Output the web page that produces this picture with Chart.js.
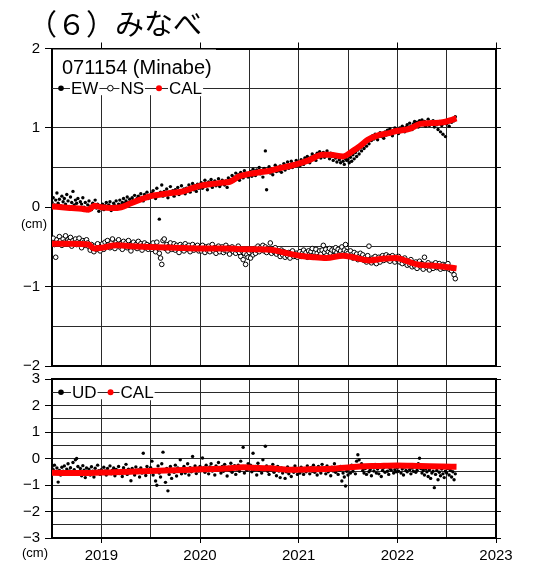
<!DOCTYPE html>
<html>
<head>
<meta charset="utf-8">
<script src="https://cdn.jsdelivr.net/npm/chart.js@4.4.1/dist/chart.umd.min.js"></script>
<style>
  body { margin: 0; background: #fff; }
  #wrap { position: relative; width: 537px; height: 564px; overflow: hidden; background: #fff; }
  #wrap canvas { position: absolute; left: 0; top: 0; }
  .titulo { position: absolute; left: 28px; top: 5px; font: 29px "Noto Sans CJK JP", sans-serif; color: #000; white-space: nowrap; line-height: 1.2; }
  .unidad { position: absolute; font: 13px "Liberation Sans", Arial, sans-serif; color: #000; line-height: 15px; }
</style>
</head>
<body>
<div id="wrap">
  <canvas id="chartHoriz" width="537" height="564"></canvas>
  <canvas id="chartVert" width="537" height="564"></canvas>
  <div class="titulo">（６）みなべ</div>
  <div class="unidad" style="left:21px; top:216px;">(cm)</div>
  <div class="unidad" style="left:22px; top:545px;">(cm)</div>
</div>
<script>
// muestras cada 1/80 de año desde 2018.5
const inicio = 2018.5;
const paso = 1 / 80;

const ewValues = [
  0.06,0.12,0.03,0.09,0.18,0.05,0.10,0.02,0.14,0.07, 0.11,0.04,0.16,0.08,0.01,0.13,0.06,0.20,0.03,0.09,
  0.05,0.11,-0.02,0.07,0.04,0.12,0.00,0.06,-0.04,0.03, 0.08,0.01,-0.03,0.05,0.02,0.09,-0.01,0.04,-0.05,0.02,
  0.00,0.04,-0.03,0.02,0.06,-0.01,0.03,0.07,-0.04,0.01, 0.05,0.02,0.08,-0.02,0.04,0.09,0.03,0.06,0.11,0.05,
  0.08,0.13,0.06,0.10,0.04,0.12,0.09,0.15,0.07,0.11, 0.14,0.09,0.17,0.12,0.08,0.16,0.13,0.19,0.11,0.15,
  0.13,0.18,0.21,0.15,0.11,0.24,0.17,-0.15,0.19,0.28, 0.14,0.20,0.16,0.23,0.12,0.19,0.26,0.17,0.21,0.14,
  0.22,0.18,0.25,0.16,0.20,0.27,0.19,0.23,0.17,0.24, 0.21,0.28,0.19,0.25,0.30,0.22,0.27,0.20,0.29,0.24,
  0.26,0.31,0.24,0.29,0.34,0.27,0.22,0.32,0.28,0.35, 0.25,0.30,0.33,0.27,0.31,0.36,0.26,0.29,0.34,0.30,
  0.28,0.33,0.25,0.37,0.31,0.35,0.40,0.33,0.38,0.43, 0.36,0.41,0.34,0.44,0.39,0.37,0.46,0.40,0.43,0.38,
  0.41,0.45,0.39,0.48,0.43,0.40,0.47,0.44,0.50,0.42, 0.46,0.38,0.49,0.71,0.22,0.45,0.51,0.43,0.48,0.41,
  0.47,0.53,0.45,0.50,0.46,0.52,0.44,0.49,0.55,0.47, 0.51,0.57,0.49,0.53,0.58,0.50,0.55,0.52,0.59,0.54,
  0.56,0.52,0.60,0.57,0.54,0.62,0.58,0.64,0.60,0.56, 0.63,0.67,0.61,0.65,0.59,0.68,0.64,0.70,0.62,0.66,
  0.69,0.63,0.67,0.71,0.65,0.61,0.68,0.64,0.59,0.66, 0.62,0.57,0.65,0.60,0.56,0.63,0.58,0.54,0.61,0.59,
  0.60,0.56,0.63,0.58,0.66,0.61,0.69,0.64,0.72,0.67, 0.75,0.71,0.79,0.74,0.82,0.77,0.85,0.80,0.88,0.84,
  0.90,0.86,0.92,0.88,0.85,0.91,0.94,0.89,0.93,0.87, 0.95,0.91,0.97,0.93,0.99,0.94,0.90,0.96,1.00,0.95,
  0.97,0.93,1.00,0.96,1.02,0.98,0.95,1.01,1.04,0.99, 1.06,1.02,0.98,1.05,1.08,1.03,1.07,1.01,1.09,1.05,
  1.10,1.04,1.08,1.02,1.06,1.11,1.03,1.07,1.05,1.09, 1.01,1.06,1.04,0.98,1.08,0.95,1.03,0.92,1.06,0.89,
  1.05,1.09,1.02,1.10,1.07,1.12,1.09,1.14
];

const nsValues = [
  -0.43,-0.39,-0.47,-0.63,-0.41,-0.45,-0.37,-0.42,-0.48,-0.40, -0.44,-0.36,-0.46,-0.41,-0.43,-0.38,-0.49,-0.42,-0.45,-0.40,
  -0.47,-0.43,-0.39,-0.46,-0.51,-0.42,-0.44,-0.48,-0.41,-0.45, -0.50,-0.54,-0.47,-0.52,-0.56,-0.49,-0.53,-0.46,-0.51,-0.55,
  -0.50,-0.46,-0.53,-0.44,-0.49,-0.42,-0.47,-0.51,-0.45,-0.40, -0.48,-0.52,-0.44,-0.47,-0.41,-0.50,-0.46,-0.53,-0.43,-0.48,
  -0.45,-0.51,-0.42,-0.49,-0.55,-0.46,-0.44,-0.50,-0.47,-0.52, -0.43,-0.49,-0.46,-0.54,-0.48,-0.45,-0.51,-0.47,-0.53,-0.49,
  -0.48,-0.53,-0.45,-0.50,-0.56,-0.44,-0.51,-0.58,-0.64,-0.72, -0.42,-0.40,-0.52,-0.47,-0.55,-0.49,-0.45,-0.53,-0.50,-0.46,
  -0.54,-0.48,-0.51,-0.57,-0.47,-0.52,-0.49,-0.55,-0.46,-0.50, -0.53,-0.48,-0.56,-0.51,-0.47,-0.54,-0.50,-0.52,-0.48,-0.55,
  -0.51,-0.55,-0.48,-0.53,-0.57,-0.50,-0.54,-0.49,-0.56,-0.52, -0.47,-0.55,-0.51,-0.58,-0.53,-0.49,-0.56,-0.52,-0.50,-0.57,
  -0.54,-0.48,-0.55,-0.51,-0.59,-0.53,-0.50,-0.56,-0.52,-0.58, -0.54,-0.49,-0.57,-0.62,-0.55,-0.66,-0.58,-0.72,-0.60,-0.63,
  -0.57,-0.64,-0.55,-0.60,-0.52,-0.58,-0.54,-0.49,-0.56,-0.51, -0.53,-0.48,-0.55,-0.50,-0.57,-0.52,-0.54,-0.45,-0.58,-0.53,
  -0.56,-0.51,-0.59,-0.55,-0.57,-0.62,-0.54,-0.60,-0.56,-0.63, -0.58,-0.61,-0.57,-0.64,-0.59,-0.55,-0.62,-0.60,-0.58,-0.63,
  -0.60,-0.56,-0.62,-0.58,-0.54,-0.61,-0.57,-0.63,-0.55,-0.59, -0.56,-0.52,-0.60,-0.57,-0.53,-0.58,-0.62,-0.55,-0.59,-0.54,
  -0.48,-0.57,-0.53,-0.60,-0.56,-0.52,-0.58,-0.54,-0.61,-0.55, -0.51,-0.57,-0.53,-0.59,-0.55,-0.50,-0.58,-0.54,-0.47,-0.56,
  -0.58,-0.62,-0.55,-0.60,-0.64,-0.57,-0.61,-0.59,-0.66,-0.62, -0.58,-0.65,-0.60,-0.67,-0.63,-0.69,-0.61,-0.49,-0.66,-0.70,
  -0.64,-0.68,-0.62,-0.71,-0.66,-0.63,-0.69,-0.65,-0.61,-0.67, -0.63,-0.60,-0.66,-0.62,-0.68,-0.64,-0.61,-0.65,-0.69,-0.63,
  -0.66,-0.62,-0.69,-0.65,-0.71,-0.67,-0.64,-0.70,-0.73,-0.68, -0.72,-0.66,-0.75,-0.70,-0.74,-0.69,-0.77,-0.72,-0.68,-0.75,
  -0.71,-0.78,-0.63,-0.73,-0.76,-0.70,-0.79,-0.74,-0.72,-0.77, -0.73,-0.70,-0.76,-0.74,-0.71,-0.78,-0.75,-0.72,-0.77,-0.73,
  -0.75,-0.71,-0.78,-0.76,-0.80,-0.77,-0.85,-0.90
];

const udValues = [
  -0.30,-0.42,-0.25,-0.51,-0.36,-0.89,-0.45,-0.62,-0.33,-0.48, -0.28,-0.55,-0.40,-0.20,-0.47,-0.35,-0.58,-0.15,-0.42,-0.05,
  0.00,-0.30,-0.52,-0.38,-0.65,-0.27,-0.44,-0.72,-0.36,-0.55, -0.40,-0.62,-0.31,-0.48,-0.70,-0.37,-0.53,-0.25,-0.46,-0.60,
  -0.42,-0.55,-0.33,-0.47,-0.62,-0.38,-0.50,-0.28,-0.58,-0.44, -0.36,-0.65,-0.41,-0.52,-0.30,-0.57,-0.45,-0.68,-0.35,-0.49,
  -0.22,-0.60,-0.40,-0.54,-0.84,-0.38,-0.47,-0.62,-0.32,-0.51, -0.43,-0.70,-0.36,-0.55,0.20,-0.48,-0.64,-0.30,-0.52,-0.40,
  -0.35,-0.10,-0.62,-0.45,-0.85,-1.01,-0.28,-0.55,-0.70,-0.20, 0.24,-0.48,-0.90,-0.38,-1.22,-0.60,-0.30,-0.75,-0.42,-0.52,
  -0.25,-0.66,-0.36,-0.48,-0.05,-0.58,-0.40,-0.30,-0.55,-0.44, -0.20,-0.62,-0.35,-0.50,0.08,-0.42,-0.28,-0.57,-0.38,-0.47,
  -0.30,-0.45,0.02,-0.36,-0.52,-0.25,-0.40,-0.58,-0.32,-0.20, -0.47,-0.35,-0.62,-0.28,-0.43,-0.15,-0.38,-0.55,-0.30,-0.48,
  -0.22,-0.41,-0.66,-0.33,-0.45,-0.18,-0.52,-0.36,-0.27,-0.60, -0.40,-0.25,-0.48,-0.10,-0.35,0.42,-0.55,-0.30,-0.44,-0.20,
  -0.38,-0.25,-0.50,0.20,-0.42,-0.30,-0.62,-0.18,-0.45,-0.35, -0.55,-0.05,-0.40,0.46,-0.28,-0.48,-0.60,-0.33,-0.44,-0.22,
  -0.52,-0.38,-0.65,-0.30,-0.47,-0.72,-0.36,-0.55,-0.42,-0.75, -0.50,-0.32,-0.58,-0.45,-0.68,-0.38,-0.52,-0.28,-0.46,-0.60,
  -0.42,-0.55,-0.33,-0.47,-0.60,-0.38,-0.50,-0.28,-0.45,-0.58, -0.35,-0.48,-0.25,-0.52,-0.40,-0.62,-0.30,-0.46,-0.55,-0.22,
  -0.43,-0.36,-0.58,-0.28,-0.50,-0.40,-0.65,-0.33,-0.47,-0.20, -0.52,-0.38,-0.60,-0.44,-0.30,-0.85,-0.55,-0.70,-1.04,-0.48,
  -0.62,-0.40,-0.55,-0.25,-0.48,-0.35,-0.58,-0.10,0.14,-0.05, -0.30,-0.20,-0.45,-0.55,-0.38,-0.60,-0.28,-0.50,-0.42,-0.65,
  -0.33,-0.47,-0.22,-0.55,-0.40,-0.58,-0.30,-0.68,-0.45,-0.35, -0.52,-0.25,-0.48,-0.60,-0.38,-0.44,-0.30,-0.55,-0.42,-0.50,
  -0.35,-0.48,-0.28,-0.55,-0.40,-0.62,-0.32,-0.45,-0.50,-0.25, -0.42,-0.58,-0.36,-0.48,-0.30,-0.52,-0.44,-0.20,0.01,-0.38,
  -0.55,-0.45,-0.62,-0.40,-0.50,-0.68,-0.42,-0.75,-0.55,-0.48, -1.10,-0.60,-0.45,-0.80,-0.52,-0.65,-0.40,-0.58,-0.72,-0.48,
  -0.55,-0.38,-0.62,-0.45,-0.70,-0.50,-0.80,-0.58
];

// curvas CAL
const calEwYears  = [2018.50,2018.60,2018.70,2018.80,2018.87,2018.93,2019.00,2019.10,2019.20,2019.30,2019.40,2019.50,2019.60,2019.70,2019.83,2019.92,2020.00,2020.10,2020.23,2020.30,2020.40,2020.50,2020.60,2020.71,2020.80,2020.91,2021.00,2021.10,2021.24,2021.32,2021.45,2021.55,2021.62,2021.70,2021.79,2021.90,2021.99,2022.13,2022.23,2022.35,2022.46,2022.60];
const calEwValues = [0.01,0.00,-0.01,-0.02,-0.03,0.02,0.00,-0.01,0.00,0.05,0.10,0.14,0.16,0.18,0.20,0.24,0.27,0.29,0.31,0.32,0.39,0.42,0.44,0.46,0.49,0.52,0.55,0.59,0.66,0.66,0.64,0.71,0.77,0.85,0.90,0.93,0.96,0.99,1.05,1.06,1.07,1.12];

const calNsYears  = [2018.50,2018.70,2018.87,2018.93,2019.00,2019.16,2019.30,2019.49,2019.75,2020.00,2020.25,2020.50,2020.71,2020.85,2021.01,2021.15,2021.28,2021.45,2021.55,2021.72,2021.85,2021.99,2022.10,2022.20,2022.40,2022.60];
const calNsValues = [-0.46,-0.46,-0.47,-0.52,-0.51,-0.48,-0.49,-0.50,-0.51,-0.52,-0.52,-0.53,-0.535,-0.57,-0.61,-0.63,-0.64,-0.61,-0.63,-0.67,-0.65,-0.64,-0.68,-0.72,-0.74,-0.77];

const calUdYears  = [2018.50,2018.80,2019.00,2019.20,2019.49,2019.75,2020.00,2020.25,2020.44,2020.60,2020.71,2020.91,2021.10,2021.32,2021.50,2021.62,2021.80,2021.99,2022.23,2022.45,2022.60];
const calUdValues = [-0.54,-0.55,-0.53,-0.51,-0.47,-0.44,-0.41,-0.38,-0.33,-0.36,-0.37,-0.42,-0.41,-0.39,-0.34,-0.30,-0.28,-0.26,-0.28,-0.30,-0.31];

const yearLabels = [2019, 2020, 2021, 2022, 2023];

const GRID = "#2a2a2a";
const FONT = '"Liberation Sans", Arial, sans-serif';
Chart.defaults.font.family = FONT;
Chart.defaults.color = "#000";

const muestras = vals => vals.map((v, i) => ({ x: inicio + i * paso, y: v }));
const pares = (xs, ys) => xs.map((x, i) => ({ x, y: ys[i] }));
const entero = v => Number.isInteger(v);
const signo = v => (v < 0 ? "\u2212" + Math.abs(v) : String(v));
const oculto = "rgba(0,0,0,0)";

// cuadro de leyenda sobre la linea de la grilla
const leyendaPanel = {
  id: "leyendaPanel",
  afterDatasetsDraw(chart, args, opts) {
    if (!opts.items) return;
    const ctx = chart.ctx;
    const a = chart.chartArea;
    const y = chart.scales.y.getPixelForValue(opts.nivel);
    ctx.save();
    ctx.fillStyle = "#fff";
    ctx.fillRect(a.left + 1, a.top + 1, opts.ancho, y + 6 - a.top);
    ctx.strokeStyle = GRID;
    ctx.lineWidth = 1;
    ctx.beginPath();
    ctx.moveTo(a.left, Math.round(y) + 0.5);
    ctx.lineTo(a.left + opts.ancho + 1, Math.round(y) + 0.5);
    ctx.stroke();

    if (opts.titulo) {
      ctx.font = "20px " + FONT;
      ctx.fillStyle = "#000";
      ctx.textBaseline = "alphabetic";
      ctx.fillText(opts.titulo, a.left + 10, a.top + 25);
    }

    ctx.font = "17px " + FONT;
    ctx.textBaseline = "middle";
    let x = a.left + 9;
    opts.items.forEach(it => {
      ctx.beginPath();
      ctx.arc(x, y, it.radio, 0, Math.PI * 2);
      ctx.fillStyle = it.relleno;
      ctx.fill();
      if (it.borde) {
        ctx.lineWidth = 1;
        ctx.strokeStyle = it.borde;
        ctx.stroke();
      }
      const tx = x + it.sep;
      const w = ctx.measureText(it.texto).width;
      ctx.fillStyle = "#fff";
      ctx.fillRect(tx - 1, y - 8, w + 2, 16);
      ctx.fillStyle = "#000";
      ctx.fillText(it.texto, tx, y + 1);
      x = tx + w + it.hueco;
    });
    ctx.restore();
  }
};

function ejes(o) {
  return {
    x: {
      type: "linear", min: 2018.5, max: 2023,
      ticks: {
        display: o.xLabels, stepSize: 0.5, autoSkip: false, maxRotation: 0, padding: 4,
        font: { size: 15 },
        callback: v => (yearLabels.includes(v) ? String(v) : "")
      },
      grid: {
        color: GRID, lineWidth: 1, drawTicks: o.xLabels, tickLength: 5,
        tickColor: c => (c.tick && entero(c.tick.value) ? "#000" : oculto)
      },
      border: { color: "#000", width: 2 },
      afterFit: s => { s.height = o.xHeight; }
    },
    xTop: {
      type: "linear", position: "top", min: 2018.5, max: 2023,
      ticks: { display: false, stepSize: 0.5, autoSkip: false },
      grid: {
        drawOnChartArea: false, drawTicks: o.topTicks, tickLength: 6,
        tickColor: c => (c.tick && entero(c.tick.value) ? "#000" : oculto)
      },
      border: { color: "#000", width: 2 },
      afterFit: s => { s.height = o.topTicks ? 6 : 0; }
    },
    y: {
      type: "linear", min: o.min, max: o.max,
      ticks: {
        stepSize: 0.5, autoSkip: false, padding: 5, font: { size: 15 },
        callback: v => (entero(v) ? signo(v) : "")
      },
      grid: {
        color: GRID, lineWidth: 1, tickLength: 7,
        tickColor: c => (c.tick && entero(c.tick.value) ? "#000" : oculto)
      },
      border: { color: "#000", width: 2 },
      afterFit: s => { s.width = 52; }
    },
    yRight: {
      type: "linear", position: "right", min: o.min, max: o.max,
      ticks: { display: false, stepSize: 0.5, autoSkip: false },
      grid: {
        drawOnChartArea: false, tickLength: 5,
        tickColor: c => (c.tick && (o.rightHalf || entero(c.tick.value)) ? "#000" : oculto)
      },
      border: { color: "#000", width: 2 },
      afterFit: s => { s.width = 5; }
    }
  };
}

const base = {
  responsive: false,
  animation: false,
  events: [],
  plugins: { legend: { display: false }, tooltip: { enabled: false } }
};

const calLinea = data => ({
  label: "CAL", data, showLine: true, borderColor: "#ff0000", borderWidth: 6,
  pointRadius: 0, cubicInterpolationMode: "monotone", fill: false, order: 0
});

new Chart(document.getElementById("chartHoriz"), {
  type: "scatter",
  data: {
    datasets: [
      calLinea(pares(calEwYears, calEwValues)),
      calLinea(pares(calNsYears, calNsValues)),
      { label: "EW", data: muestras(ewValues), pointRadius: 1.7, pointBackgroundColor: "#000", pointBorderWidth: 0, order: 2 },
      { label: "NS", data: muestras(nsValues), pointRadius: 2.3, pointBackgroundColor: "#fff", pointBorderColor: "#000", pointBorderWidth: 1, order: 2 }
    ]
  },
  options: {
    ...base,
    layout: { padding: { top: 42.5, bottom: 198, left: 0, right: 36 } },
    scales: ejes({ min: -2, max: 2, xLabels: false, xHeight: 0, topTicks: true, rightHalf: true }),
    plugins: {
      ...base.plugins,
      leyendaPanel: {
        titulo: "071154 (Minabe)", nivel: 1.5, ancho: 163,
        items: [
          { texto: "EW", relleno: "#000", radio: 2.8, sep: 10, hueco: 12 },
          { texto: "NS", relleno: "#fff", borde: "#000", radio: 2.8, sep: 10, hueco: 15 },
          { texto: "CAL", relleno: "#ff0000", radio: 3, sep: 10, hueco: 0 }
        ]
      }
    }
  },
  plugins: [leyendaPanel]
});

new Chart(document.getElementById("chartVert"), {
  type: "scatter",
  data: {
    datasets: [
      calLinea(pares(calUdYears, calUdValues)),
      { label: "UD", data: muestras(udValues), pointRadius: 1.7, pointBackgroundColor: "#000", pointBorderWidth: 0, order: 2 }
    ]
  },
  options: {
    ...base,
    layout: { padding: { top: 379, bottom: 0, left: 0, right: 36 } },
    scales: ejes({ min: -3, max: 3, xLabels: true, xHeight: 26, topTicks: false, rightHalf: false }),
    plugins: {
      ...base.plugins,
      leyendaPanel: {
        nivel: 2.5, ancho: 106,
        items: [
          { texto: "UD", relleno: "#000", radio: 2.8, sep: 11, hueco: 14 },
          { texto: "CAL", relleno: "#ff0000", radio: 3, sep: 10, hueco: 0 }
        ]
      }
    }
  },
  plugins: [leyendaPanel]
});
</script>
</body>
</html>
